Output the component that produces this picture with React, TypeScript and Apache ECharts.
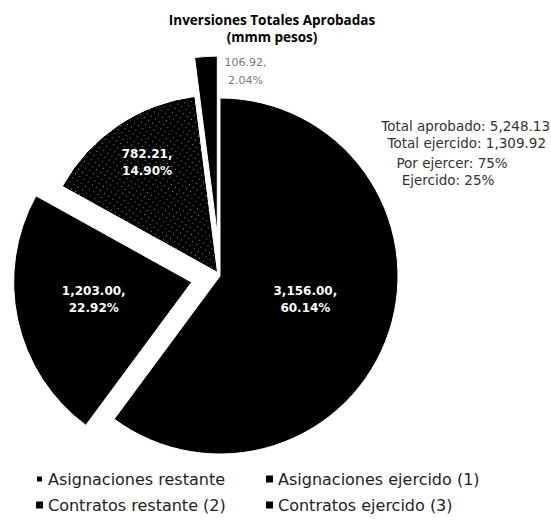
import React, { useEffect, useRef } from "react";
import * as echarts from "echarts";

const categories = [
  "Asignaciones restante",
  "Asignaciones ejercido (1)",
  "Contratos restante (2)",
  "Contratos ejercido (3)",
];
const values = [3156.0, 1203.0, 782.21, 106.92];
const ejercidoIdx = [1, 3];
const titleLines = ["Inversiones Totales Aprobadas", "(mmm pesos)"];

const explode = [0, 29, 4, 42];
const labelShift = [
  { dx: -2, dy: -5 },
  { dx: -8, dy: -2 },
  { dx: -19, dy: -34 },
  { dx: 34, dy: -71 },
];

const fmt = (v: number) =>
  v.toLocaleString("en-US", { minimumFractionDigits: 2, maximumFractionDigits: 2 });

export default function App() {
  const ref = useRef<HTMLDivElement>(null);
  useEffect(() => {
    if (!ref.current) return;
    const chart = echarts.init(ref.current, null, { renderer: "svg" });
    const total = values.reduce((a, b) => a + b, 0);
    const ejercido = ejercidoIdx.reduce((a, i) => a + values[i], 0);
    const pctEj = Math.round((ejercido / total) * 100);
    const cx = 220;
    const cy = 276;
    const R = 178;
    const speckle = {
      symbol: "rect",
      symbolSize: 1,
      color: "rgba(255,255,255,0.55)",
      dashArrayX: [1, 4],
      dashArrayY: [1, 4],
      rotation: 0.6,
    };
    let acc = 0;
    const series: any[] = values.map((v, i) => {
      const startFrac = acc / total;
      acc += v;
      const midFrac = startFrac + v / total / 2;
      const ang = midFrac * Math.PI * 2;
      const center = [cx + explode[i] * Math.sin(ang), cy - explode[i] * Math.cos(ang)];
      const small = i === 3;
      return {
        type: "pie",
        center,
        radius: R,
        startAngle: 90,
        clockwise: true,
        avoidLabelOverlap: false,
        silent: true,
        labelLayout: labelShift[i],
        data: categories.map((name, j) => ({
          name,
          value: values[j],
          itemStyle:
            j === i
              ? {
                  color: "#000",
                  borderColor: "#fff",
                  borderWidth: 1,
                  decal: j === 2 ? speckle : undefined,
                }
              : { color: "rgba(0,0,0,0)", borderWidth: 0 },
          label: { show: j === i },
          labelLine: { show: false },
        })),
        label: {
          position: "inside",
          formatter: (p: any) => `${fmt(p.value)},\n${p.percent.toFixed(2)}%`,
          color: small ? "#777" : "#fff",
          fontFamily: "DejaVu Sans",
          fontWeight: small ? "normal" : "bold",
          fontSize: small ? 11 : 12,
          lineHeight: small ? 18 : 17,
          align: small ? "left" : "center",
        },
        labelLine: { show: false },
        emphasis: { disabled: true },
      };
    });

    const legendText = {
      fontFamily: "DejaVu Sans",
      fontSize: 16,
      color: "#222",
      lineHeight: 16,
    };
    const legendItem = (n: string) => ({
      name: n,
      icon: "rect",
      itemStyle: { color: "#000", decal: n === categories[2] ? speckle : undefined },
    });
    const rightFont = "13.5px 'DejaVu Sans'";

    chart.setOption({
      animation: false,
      backgroundColor: "#fff",
      legend: [
        {
          orient: "vertical",
          left: 30,
          top: 466,
          itemWidth: 7,
          itemHeight: 7,
          itemGap: 10,
          selectedMode: false,
          textStyle: legendText,
          data: [legendItem(categories[0]), legendItem(categories[2])],
        },
        {
          orient: "vertical",
          left: 261,
          top: 466,
          itemWidth: 7,
          itemHeight: 7,
          itemGap: 10,
          selectedMode: false,
          textStyle: legendText,
          data: [legendItem(categories[1]), legendItem(categories[3])],
        },
      ],
      graphic: [
        {
          type: "text",
          x: 272,
          y: 20,
          style: {
            text: titleLines[0],
            textAlign: "center",
            textVerticalAlign: "middle",
            font: "bold 13.5px 'Open Sans'",
            fill: "#000",
          },
        },
        {
          type: "text",
          x: 272,
          y: 37,
          style: {
            text: titleLines[1],
            textAlign: "center",
            textVerticalAlign: "middle",
            font: "bold 13.5px 'Open Sans'",
            fill: "#000",
          },
        },
        {
          type: "text",
          x: 550,
          y: 126,
          style: {
            text: `Total aprobado: ${fmt(total)}`,
            textAlign: "right",
            textVerticalAlign: "middle",
            font: rightFont,
            fill: "#333",
          },
        },
        {
          type: "text",
          x: 546,
          y: 143,
          style: {
            text: `Total ejercido: ${fmt(ejercido)}`,
            textAlign: "right",
            textVerticalAlign: "middle",
            font: rightFont,
            fill: "#333",
          },
        },
        {
          type: "text",
          x: 452,
          y: 163,
          style: {
            text: `Por ejercer: ${100 - pctEj}%`,
            textAlign: "center",
            textVerticalAlign: "middle",
            font: rightFont,
            fill: "#333",
          },
        },
        {
          type: "text",
          x: 448,
          y: 180,
          style: {
            text: `Ejercido: ${pctEj}%`,
            textAlign: "center",
            textVerticalAlign: "middle",
            font: rightFont,
            fill: "#333",
          },
        },
      ],
      series,
    });
    return () => chart.dispose();
  }, []);
  return (
    <div
      ref={ref}
      style={{ position: "fixed", left: 0, top: 0, width: 551, height: 527 }}
    />
  );
}
